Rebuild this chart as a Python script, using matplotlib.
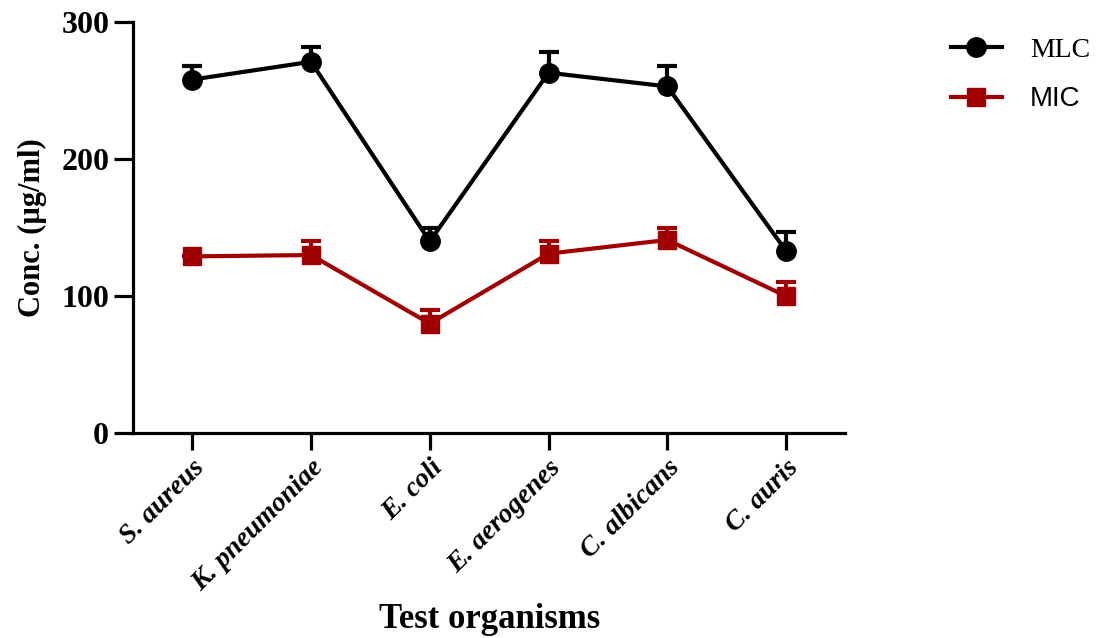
import numpy as np
import matplotlib
matplotlib.use("Agg")
import matplotlib.pyplot as plt

# organisms on the x axis
organisms = ["S. aureus", "K. pneumoniae", "E. coli", "E. aerogenes", "C. albicans", "C. auris"]

# minimum lethal concentration (mean, upper error)
mlc = [258, 271, 140, 263, 253, 133]
mlc_err = [10, 10.5, 10, 15, 15, 14]

# minimum inhibitory concentration (mean, upper error)
mic = [129, 130, 80, 131, 141, 100]
mic_err = [0, 10, 10, 9.5, 9, 10]

yticks = [0, 100, 200, 300]

red = "#a00000"
serif = "Liberation Serif"
x = np.arange(len(organisms))

fig = plt.figure(figsize=(10.98, 6.38), dpi=100)
ax = fig.add_axes([0.121, 0.321, 0.649, 0.6445])

handles = []
for vals, errs, col, mk, size, name in [(mlc, mlc_err, "black", "o", 14, "MLC"),
                                        (mic, mic_err, red, "s", 13, "MIC")]:
    cont = ax.errorbar(x, vals, yerr=[np.zeros(len(vals)), errs], color=col, lw=3,
                       marker=mk, ms=size, capsize=7, capthick=3, elinewidth=3,
                       label=name, clip_on=False, zorder=3)
    # only the upper cap is shown
    cont[1][0].set_visible(False)
    handles.append(cont[0])

ax.set_xlim(-0.5, len(organisms) - 0.5)
ax.set_ylim(0, 300)
ax.set_yticks(yticks)
ax.set_xticks(x)

for s in ["top", "right"]:
    ax.spines[s].set_visible(False)
for s in ["left", "bottom"]:
    ax.spines[s].set_linewidth(2.3)

ax.tick_params(axis="y", length=14, width=2.3, pad=3)
ax.tick_params(axis="x", length=12, width=2.3, pad=4)

ax.set_yticklabels([str(t) for t in yticks], fontfamily=serif, fontweight="bold", fontsize=23)
ax.set_xticklabels(organisms, rotation=45, ha="right", rotation_mode="anchor",
                   fontfamily=serif, fontweight="bold", fontstyle="italic", fontsize=20)

ax.set_ylabel("Conc. (µg/ml)", fontfamily=serif, fontweight="bold", fontsize=22, labelpad=10)
ax.set_xlabel("Test organisms", fontfamily=serif, fontweight="bold", fontsize=25, labelpad=5)

# legend outside, top right
leg = fig.legend(handles, ["MLC", "MIC"], loc="upper left", bbox_to_anchor=(0.843, 0.981),
                 frameon=False, handlelength=1.85, labelspacing=0.86, handletextpad=1.0,
                 fontsize=20)
leg.get_texts()[0].set_fontfamily(serif)
leg.get_texts()[1].set_fontfamily("Liberation Sans")

fig.savefig("out.png", dpi=100)
